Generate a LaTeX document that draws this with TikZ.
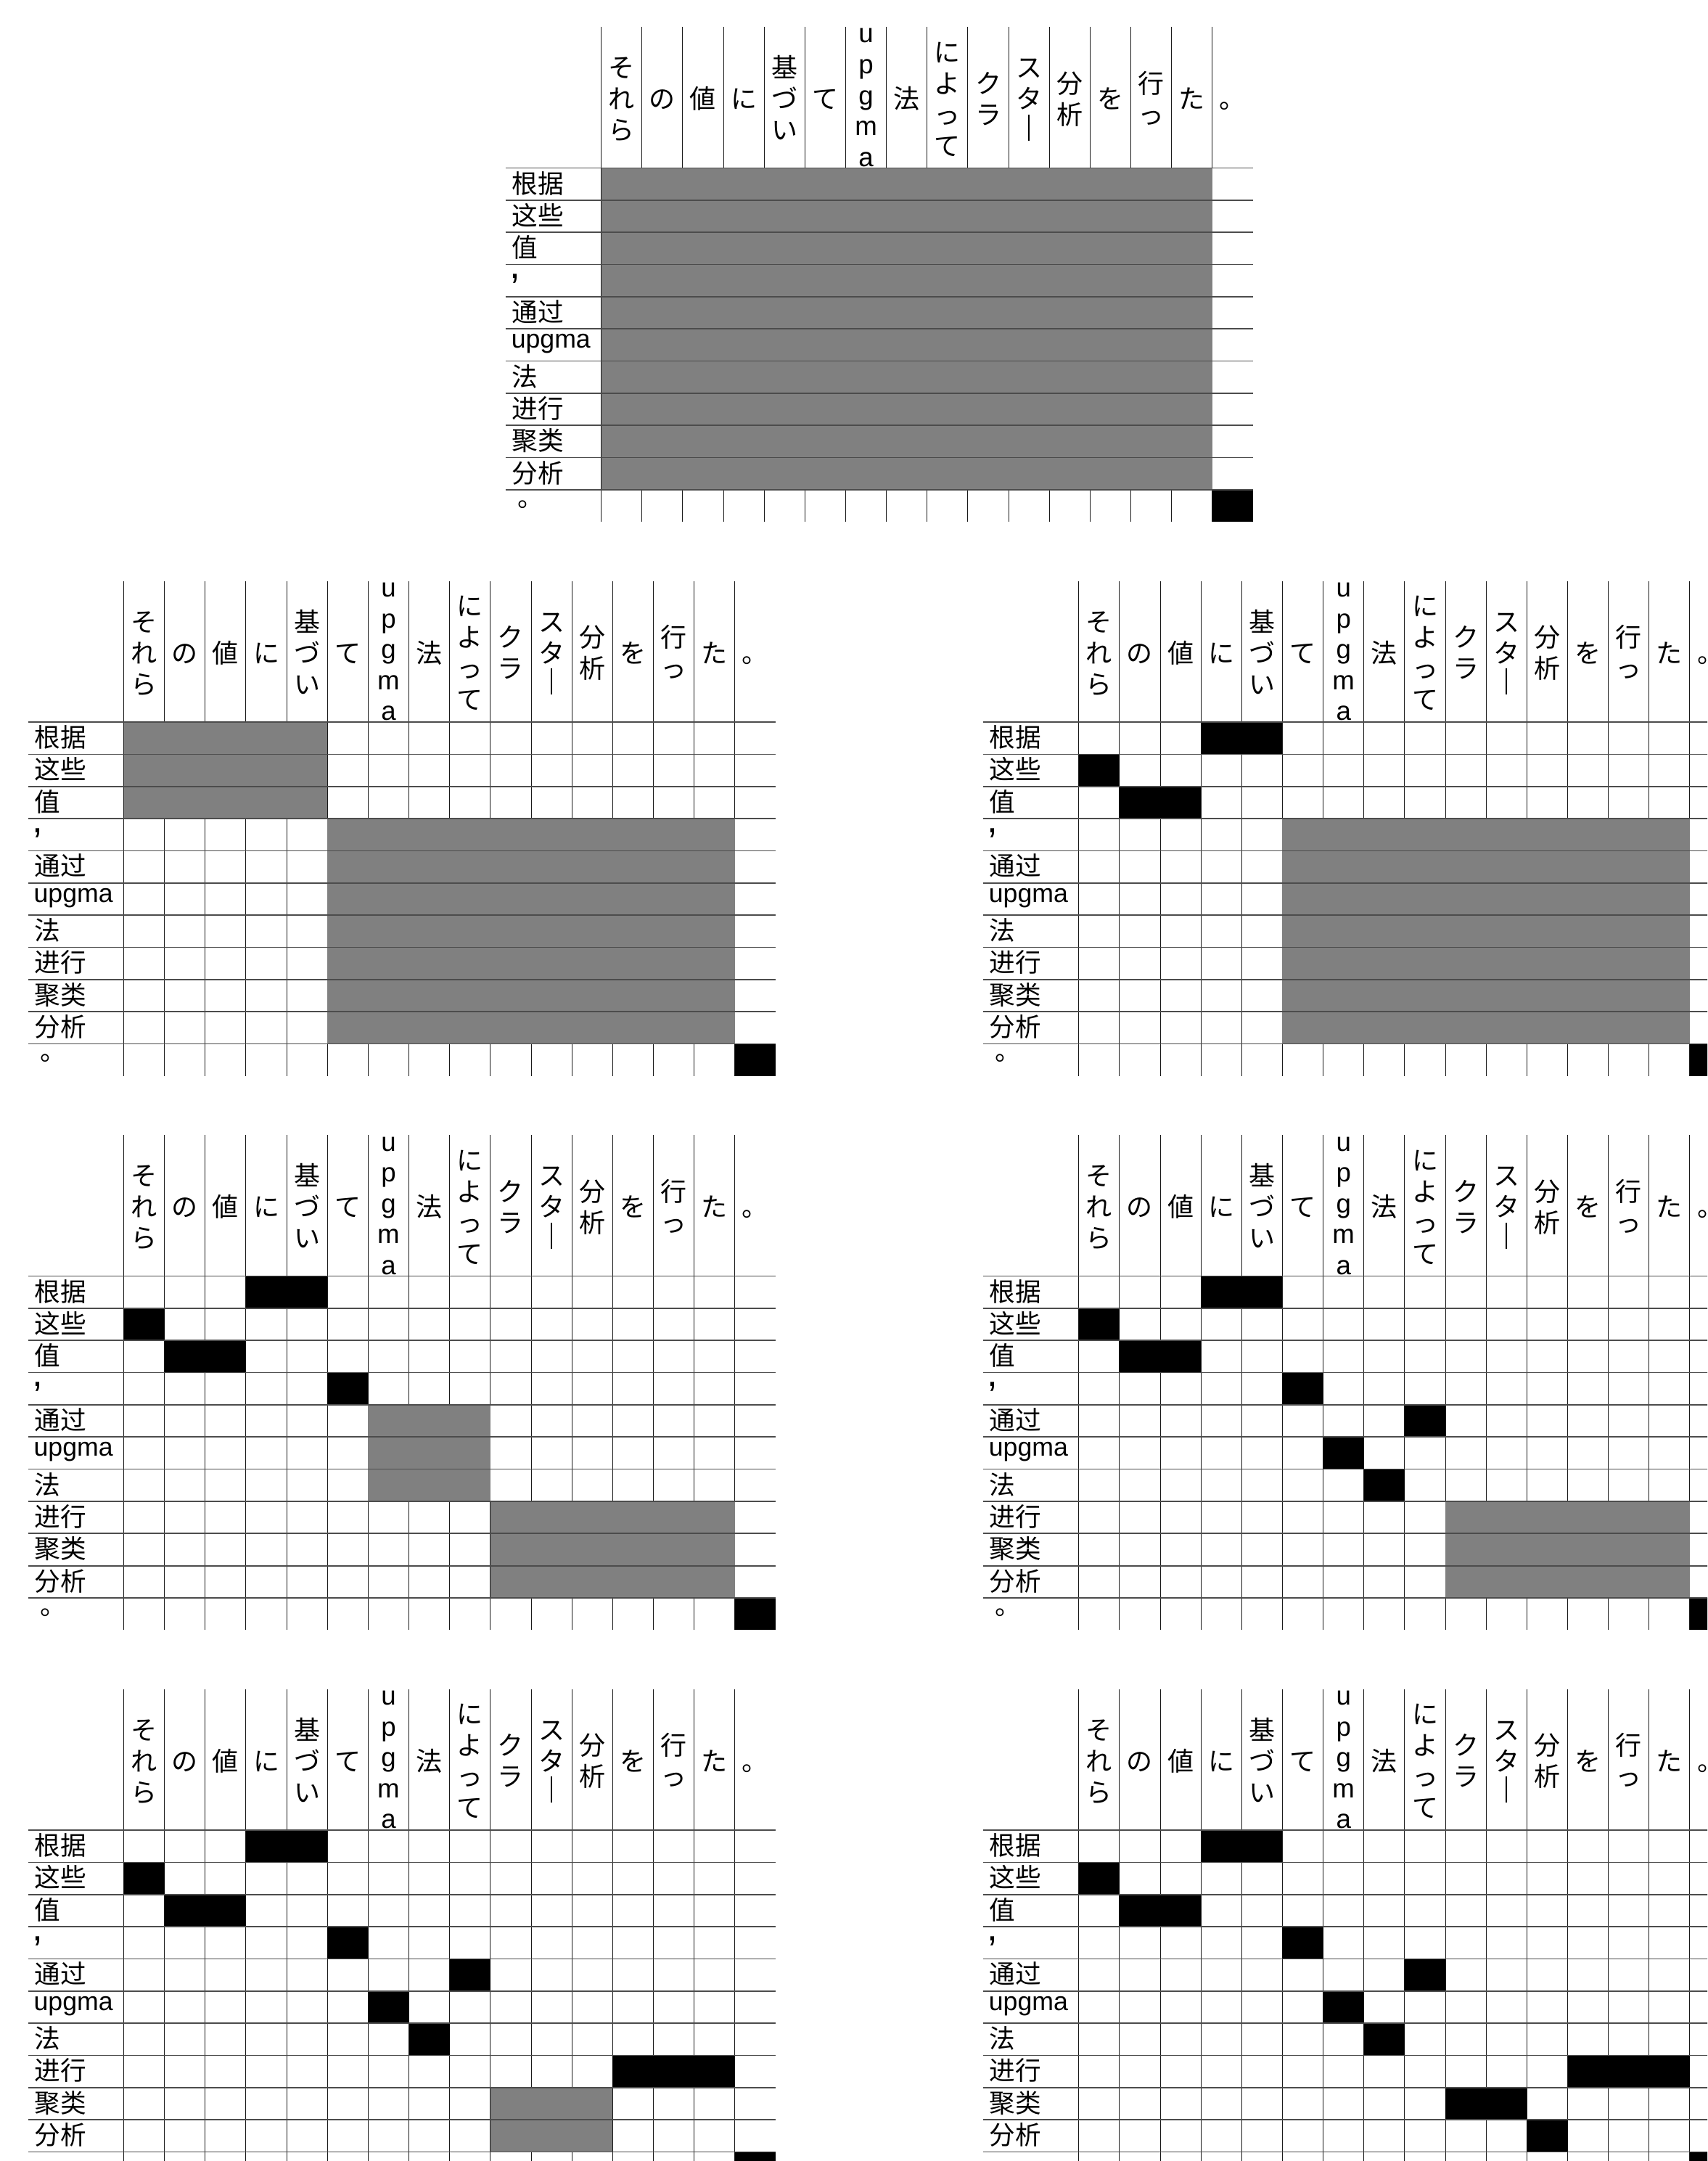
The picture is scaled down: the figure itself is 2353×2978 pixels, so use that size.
\documentclass[tikz,border=0pt]{standalone}
\usepackage{fontspec}
\usepackage{graphicx}
\setmainfont{Liberation Sans}
\newfontfamily\jafont{Noto Sans CJK JP}
\newfontfamily\zhfont{Noto Sans CJK SC}
\newfontfamily\latinfont{Liberation Sans}
\newcommand\commafont{\latinfont\fontsize{16}{16}\selectfont}
\newcommand\headlatin{\latinfont\fontsize{11}{13}\selectfont}
\newcommand\longbar{\rule[-0.02em]{0.045em}{1em}}

% one word of the header, one glyph under the other
\makeatletter
\newcommand\stackch[2]{\vbox{\baselineskip=#1\lineskiplimit=-100pt
  \expandafter\@tfor\expandafter\ch\expandafter:\expandafter=#2\do{%
    \hbox to 2em{\hss\rule[-0.12em]{0pt}{1em}\ch\hss}}}}
\makeatother

% sizes in px of the picture
\newcommand\cw{56.15}
\newcommand\rh{44.35}
\newcommand\hh{194.5}
\newcommand\lw{132}

\tikzset{
  vline/.style={black!90, line width=0.3pt},
  hline/.style={black!70, line width=0.5pt},
  graycell/.style={fill=black!50},
  blackcell/.style={fill=black},
  colhead/.style={inner sep=0pt, font=\fontsize{10.8}{13}\selectfont\jafont},
  rowhead/.style={inner sep=0pt, anchor=base west, font=\fontsize{10.7}{13}\selectfont},
}

% rows #1-#2, columns #3-#4
\newcommand\cells[5]{\fill[#5] ({(#3-1)*\cw},{(#1-1)*\rh}) rectangle ({#4*\cw},{#2*\rh});}

\newcommand\firstblacks{\cells{1}{1}{4}{5}{blackcell}\cells{2}{2}{1}{1}{blackcell}\cells{3}{3}{2}{3}{blackcell}}
\newcommand\midblacks{\cells{4}{4}{6}{6}{blackcell}\cells{5}{5}{9}{9}{blackcell}%
  \cells{6}{6}{7}{7}{blackcell}\cells{7}{7}{8}{8}{blackcell}}
\newcommand\lastblack{\cells{11}{11}{16}{16}{blackcell}}

\newcommand\grid[4]{%
  \begin{scope}[shift={(#1,#2)}]
    \foreach \i in {0,...,15}
      \draw[vline] (\i*\cw,-\hh) -- (\i*\cw,11*\rh);
    #4
    \foreach \j in {0,...,10}
      \draw[hline] (-\lw,\j*\rh) -- (16*\cw,\j*\rh);
    % japanese words on top
    \foreach \txt/\fnt/\bs/\dy [count=\i] in {
        {それら}/\relax/12.9pt/2, {の}/\relax/12.9pt/2, {値}/\relax/12.9pt/2,
        {に}/\relax/12.9pt/2, {基づい}/\relax/12.9pt/2, {て}/\relax/12.9pt/2,
        {upgma}/\headlatin/12.78pt/-4, {法}/\relax/12.9pt/2,
        {によって}/\relax/12.9pt/2, {クラ}/\relax/12.9pt/2,
        {スタ\longbar}/\relax/12.9pt/2,
        {分析}/\relax/12.9pt/2, {を}/\relax/12.9pt/2, {行っ}/\relax/12.9pt/2,
        {た}/\relax/12.9pt/2, {。}/\relax/12.9pt/2}
      \node[colhead] (#3-c\i) at ({(\i-0.5)*\cw},{-\hh/2+\dy}) {\fnt\stackch{\bs}{\txt}};
    % chinese words on the left
    \foreach \txt/\fnt/\dx/\dy [count=\j] in {
        根据/\zhfont/8.5/34.5, 这些/\zhfont/8.5/34.5, 值/\zhfont/8.5/34.5,
        {,}/\commafont/5.2/19.2, 通过/\zhfont/8.5/34.5, upgma/\latinfont/7.5/26.5,
        法/\zhfont/8.5/34.5, 进行/\zhfont/8.5/34.5, 聚类/\zhfont/8.5/34.5,
        分析/\zhfont/8.5/34.5, 。/\jafont/16/23}
      \node[rowhead] (#3-r\j) at ({-\lw+\dx},{(\j-1)*\rh+\dy}) {\fnt\txt};
  \end{scope}}

\begin{document}
\begin{tikzpicture}[x=0.3pt,y=-0.3pt]
  \useasboundingbox (0,0) rectangle (2353,2978);
  \clip (0,0) rectangle (2353,2978);

  \grid{828.6}{231.5}{top}{\cells{1}{10}{1}{15}{graycell}\lastblack}

  \grid{170.5}{995}{al}{\cells{1}{3}{1}{5}{graycell}\cells{4}{10}{6}{15}{graycell}\lastblack}
  \grid{1486.7}{995}{ar}{\firstblacks\cells{4}{10}{6}{15}{graycell}\lastblack}

  \grid{170.5}{1758.5}{bl}{\firstblacks\cells{4}{4}{6}{6}{blackcell}%
    \cells{5}{7}{7}{9}{graycell}\cells{8}{10}{10}{15}{graycell}\lastblack}
  \grid{1486.7}{1758.5}{br}{\firstblacks\midblacks\cells{8}{10}{10}{15}{graycell}\lastblack}

  \grid{170.5}{2522}{cl}{\firstblacks\midblacks\cells{8}{8}{13}{15}{blackcell}%
    \cells{9}{10}{10}{12}{graycell}\lastblack}
  \grid{1486.7}{2522}{cr}{\firstblacks\midblacks\cells{8}{8}{13}{15}{blackcell}%
    \cells{9}{9}{10}{11}{blackcell}\cells{10}{10}{12}{12}{blackcell}\lastblack}
\end{tikzpicture}
\end{document}
